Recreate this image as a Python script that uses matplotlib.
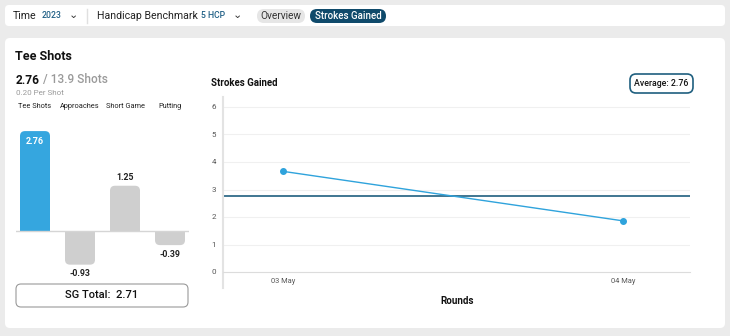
import numpy as np
import matplotlib
matplotlib.use("Agg")
import matplotlib.pyplot as plt
from matplotlib.patches import FancyBboxPatch, Rectangle

plt.rcParams['font.family'] = ['Roboto', 'DejaVu Sans']

# data
categories = ["Tee Shots", "Approaches", "Short Game", "Putting"]
sg_values = [2.76, -0.93, 1.25, -0.39]
bar_colors = ["#35a6df", "#cfcfcf", "#cfcfcf", "#cfcfcf"]
round_labels = ["03 May", "04 May"]
round_values = [3.66, 1.86]
average = 2.76
sg_total = 2.71
shots = 13.9
per_shot = 0.20

W, H = 730, 336
fig = plt.figure(figsize=(W / 100, H / 100), dpi=100)
fig.patch.set_facecolor("#ebebeb")

# overlay in pixel coords for cards / text
bg = fig.add_axes([0, 0, 1, 1])
bg.set_xlim(0, W)
bg.set_ylim(H, 0)
bg.axis("off")

def rbox(ax, x0, y0, x1, y1, r, fc, ec="none", lw=1, z=0):
    ax.add_patch(FancyBboxPatch((x0 + r, y0 + r), x1 - x0 - 2 * r, y1 - y0 - 2 * r,
                                boxstyle="round,pad=%g" % r, fc=fc, ec=ec, lw=lw, zorder=z))

# top filter bar
rbox(bg, 5, 5, 725, 26, 4, "white")
bg.text(13, 16, "Time", fontsize=7.7, va="center", color="#222222")
bg.text(42, 16, "2023", fontsize=6.2, va="center", color="#1f5f85", fontweight="medium")
bg.text(69, 15, "\u2304", fontsize=8, va="center", color="#333333")
bg.plot([87, 87], [9, 23], color="#e0e0e0", lw=1)
bg.text(97, 16, "Handicap Benchmark", fontsize=7.6, va="center", color="#222222")
bg.text(201, 16, "5 HCP", fontsize=6.2, va="center", color="#1f5f85", fontweight="medium")
bg.text(233, 15, "\u2304", fontsize=8, va="center", color="#333333")
rbox(bg, 257, 9, 305, 23, 7, "#e6e6e6")
bg.text(281, 16, "Overview", fontsize=7.3, va="center", ha="center", color="#333333")
rbox(bg, 310, 9, 386, 23, 7, "#0f4a6b")
bg.text(348, 16, "Strokes Gained", fontsize=7.0, va="center", ha="center", color="white",
        fontweight="medium")

# main card
rbox(bg, 5, 38, 725, 328, 5, "white")
bg.text(15, 57, "Tee Shots", fontsize=9, va="center", fontweight="bold", color="#111111")
t = bg.text(16, 80, "%.2f" % sg_values[0], fontsize=8.6, va="center", fontweight="bold",
            color="#111111")
bg.annotate(" / %.1f Shots" % shots, xycoords=t, xy=(1, 0.5), va="center", fontsize=8.6,
            color="#9a9a9a", fontweight="medium")
bg.text(16, 93, "%.2f Per Shot" % per_shot, fontsize=5.8, va="center", color="#9a9a9a")

# bar chart axes: baseline at px 231, 36.2 px per unit, centers 45 px apart
bx0, bx1, by0, by1 = 16, 189, 120, 275
axb = fig.add_axes([bx0 / W, 1 - by1 / H, (bx1 - bx0) / W, (by1 - by0) / H])
x_unit = 45.0
y_unit = 36.2
axb.set_xlim(-(35 - bx0) / x_unit, -(35 - bx0) / x_unit + (bx1 - bx0) / x_unit)
axb.set_ylim(-(by1 - 231) / y_unit, (231 - by0) / y_unit)
axb.axis("off")
bw = 30 / x_unit
r = 5 / x_unit
aspect = x_unit / y_unit
for i, (v, c) in enumerate(zip(sg_values, bar_colors)):
    y0 = min(0, v)
    axb.add_patch(FancyBboxPatch((i - bw / 2 + r, y0 + r * aspect), bw - 2 * r, abs(v) - 2 * r * aspect,
                                 boxstyle="round,pad=%g" % r, mutation_aspect=aspect,
                                 fc=c, ec="none"))
    axb.add_patch(Rectangle((i - bw / 2, 0 if v > 0 else v / 2), bw, abs(v) / 2, fc=c, ec="none"))
    if i == 0:
        axb.text(i, v - 10 / y_unit, "%.2f" % v, ha="center", va="center", fontsize=6.5,
                 color="white", fontweight="bold")
    elif v > 0:
        axb.text(i, v + 8 / y_unit, "%.2f" % v, ha="center", va="center", fontsize=6.3,
                 color="#222222", fontweight="bold")
    else:
        axb.text(i, v - 9 / y_unit, "%.2f" % v, ha="center", va="center", fontsize=6.3,
                 color="#222222", fontweight="bold")
    axb.text(i, (231 - 107) / y_unit, categories[i], ha="center", va="center", fontsize=5.3,
             color="#222222")
axb.axhline(0, color="#d5d5d5", lw=1)

rbox(bg, 16, 284, 188, 307, 5, "white", ec="#9a9a9a", lw=0.8)
bg.text(102, 295.5, "SG Total:  %.2f" % sg_total, ha="center", va="center", fontsize=8,
        fontweight="medium", color="#111111")

# line chart
bg.text(211, 83, "Strokes Gained", fontsize=6.9, va="center", fontweight="bold", color="#111111")
rbox(bg, 630, 74, 693, 93, 6, "white", ec="#1f5f7f", lw=1.2)
bg.text(661.5, 83.5, "Average: %.2f" % average, ha="center", va="center", fontsize=6.3,
        fontweight="medium", color="#111111")

lx0, lx1, ly0, ly1 = 223, 690, 97, 288
axl = fig.add_axes([lx0 / W, 1 - ly1 / H, (lx1 - lx0) / W, (ly1 - ly0) / H])
px_x = 623 - 283
px_y = 27.5
axl.set_xlim(-(283 - lx0) / px_x, 1 + (lx1 - 623) / px_x)
axl.set_ylim(-(ly1 - 272) / px_y, 6 + (107 - ly0) / px_y)
xs = np.arange(len(round_values))
axl.plot(xs, round_values, color="#2fa3dc", lw=1, marker="o", ms=4, zorder=3)
axl.axhline(average, color="#1f5f7f", lw=1.2, zorder=2)
axl.set_yticks(range(0, 7))
axl.set_xticks(xs, round_labels)
axl.grid(axis="y", color="#f0f0f0", lw=0.8)
axl.set_axisbelow(True)
for s in ["top", "right"]:
    axl.spines[s].set_visible(False)
axl.spines["bottom"].set_position(("data", 0))
axl.spines["bottom"].set_color("#dcdcdc")
axl.spines["left"].set_color("#e3e3e3")
axl.spines["left"].set_linewidth(1.5)
axl.tick_params(length=0, labelsize=5.8, labelcolor="#555555")
axl.tick_params(axis="x", labelsize=5.4, pad=4)
axl.tick_params(axis="y", pad=5)
axl.set_facecolor("none")
bg.text(457, 301, "Rounds", ha="center", va="center", fontsize=7, fontweight="bold",
        color="#111111")

fig.savefig("out.png", dpi=100, facecolor=fig.get_facecolor())
